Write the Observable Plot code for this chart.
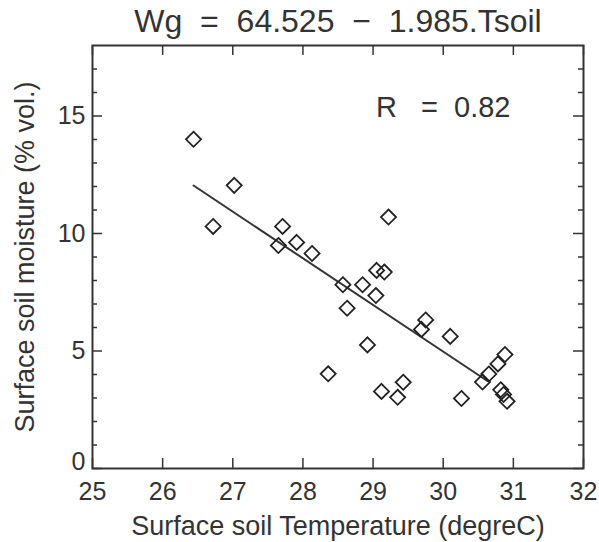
<!DOCTYPE html>
<html>
<head>
<meta charset="utf-8">
<script src="https://cdn.jsdelivr.net/npm/d3@7"></script>
<script src="https://cdn.jsdelivr.net/npm/@observablehq/plot@0.6"></script>
<style>
  html, body { margin: 0; padding: 0; background: #fff; }
</style>
</head>
<body>
<div id="chart"></div>
<script>
// ---- data ----
const tempC = [26.44, 27.02, 26.72, 27.71, 27.65, 27.91, 28.13, 29.22, 29.05, 29.16,
               28.57, 28.85, 29.04, 28.63, 28.92, 28.36, 29.12, 29.35, 29.43, 29.75,
               29.69, 30.10, 30.26, 30.56, 30.65, 30.88, 30.78, 30.82, 30.86, 30.91];
const moisture = [14.01, 12.05, 10.30, 10.30, 9.49, 9.62, 9.15, 10.70, 8.43, 8.36,
                  7.82, 7.82, 7.36, 6.82, 5.26, 4.03, 3.28, 3.03, 3.67, 6.32,
                  5.92, 5.62, 2.98, 3.68, 4.02, 4.85, 4.45, 3.35, 3.15, 2.86];
const intercept = 64.525;
const slope = -1.985;
const fitRange = [26.44, 30.63];
const xTicks = [25, 26, 27, 28, 29, 30, 31, 32];
const yTicksZero = [0];
const yTicksUpper = [5, 10, 15];
const yTicks = [0, 5, 10, 15];
const yMinor = [1, 2, 3, 4, 6, 7, 8, 9, 11, 12, 13, 14, 16, 17];
const titleText = "Wg\u00a0\u00a0=\u00a0\u00a064.525\u00a0\u00a0\u2212\u00a0\u00a01.985.Tsoil";
const rText = "R\u00a0\u00a0\u00a0=\u00a0\u00a00.82";
const xLabel = "Surface soil Temperature (degreC)";
const yLabel = "Surface soil moisture (% vol.)";

// ---- layout ----
const W = 599, H = 542;
const mL = 92, mR = 16, mT = 45, mB = 74;
const plotW = W - mL - mR, plotH = H - mT - mB;
const ink = "#333";

const points = tempC.map((t, i) => ({t, w: moisture[i]}));
const fit = fitRange.map(t => ({t, w: intercept + slope * t}));

const chart = Plot.plot({
  width: W, height: H,
  marginLeft: mL, marginRight: mR, marginTop: mT, marginBottom: mB,
  x: {domain: [25, 32]},
  y: {domain: [0, 18]},
  style: {fontFamily: "'Liberation Sans', Arial, sans-serif", fontSize: "25px", color: ink, background: "#fff", overflow: "visible"},
  marks: [
    // inward ticks
    Plot.ruleX(xTicks, {insetTop: plotH - 10, stroke: ink, strokeWidth: 1.5}),
    Plot.ruleX(xTicks, {insetBottom: plotH - 10, stroke: ink, strokeWidth: 1.5}),
    Plot.ruleY(yTicks, {insetRight: plotW - 10, stroke: ink, strokeWidth: 1.5}),
    Plot.ruleY(yTicks, {insetLeft: plotW - 10, stroke: ink, strokeWidth: 1.5}),
    Plot.ruleY(yMinor, {insetRight: plotW - 5, stroke: ink, strokeWidth: 1.5}),
    Plot.ruleY(yMinor, {insetLeft: plotW - 5, stroke: ink, strokeWidth: 1.5}),
    Plot.frame({stroke: ink, strokeWidth: 2}),
    Plot.axisX(xTicks, {tickSize: 0, tickPadding: 14, label: null, fontSize: 25}),
    Plot.axisY(yTicksUpper, {tickSize: 0, tickPadding: 7, label: null, fontSize: 25}),
    Plot.axisY(yTicksZero, {tickSize: 0, tickPadding: 7, label: null, fontSize: 25, dy: -7}),
    Plot.line(fit, {x: "t", y: "w", stroke: ink, strokeWidth: 2}),
    Plot.dot(points, {x: "t", y: "w", symbol: "diamond2", r: 6.8, stroke: "#222", strokeWidth: 1.8}),
    Plot.text([titleText], {text: d => d, frameAnchor: "top", dy: -24, lineAnchor: "middle", fontSize: 32}),
    Plot.text([rText], {text: d => d, frameAnchor: "top-right", dx: -73, dy: 62, textAnchor: "end", lineAnchor: "middle", fontSize: 29}),
    Plot.text([xLabel], {text: d => d, frameAnchor: "bottom", dy: 58, lineAnchor: "middle", fontSize: 27}),
    Plot.text([yLabel], {text: d => d, frameAnchor: "left", dx: -67, rotate: -90, textAnchor: "middle", lineAnchor: "middle", fontSize: 27})
  ]
});
document.getElementById("chart").appendChild(chart);
</script>
</body>
</html>
